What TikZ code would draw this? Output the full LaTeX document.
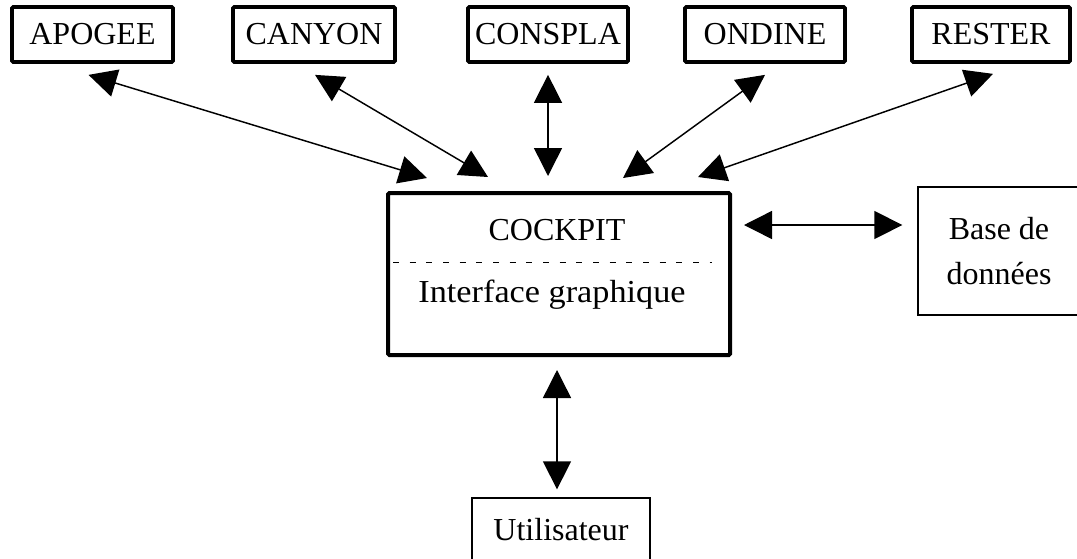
\documentclass[tikz,border=0pt]{standalone}
\usepackage{fontspec}
\setmainfont{Liberation Serif}
\usetikzlibrary{arrows.meta}
\begin{document}
\begin{tikzpicture}[x=0.75pt,y=-0.75pt,
  every node/.style={font=\fontsize{24pt}{28pt}\selectfont, inner sep=0pt},
  topbox/.style={draw, line width=2.8pt, rounded corners=1pt, minimum height=55*0.75pt},
  thinbox/.style={draw, line width=1pt},
  arr/.style={line width=1.1pt, {Triangle[length=21pt,width=21pt]}-{Triangle[length=21pt,width=21pt]}}]
\path[use as bounding box, clip] (0,0) rectangle (1077,558);
\fill[white] (0,0) rectangle (1077,558);
% top boxes
\node[topbox, minimum width=161*0.75pt] (apogee) at (92.5,34.5) {APOGEE};
\node[topbox, minimum width=162*0.75pt] (canyon) at (314,34.5) {CANYON};
\node[topbox, minimum width=160*0.75pt] (conspla) at (548,34.5) {CONSPLA};
\node[topbox, minimum width=160*0.75pt] (ondine) at (765,34.5) {ONDINE};
\node[topbox, minimum width=158*0.75pt] (rester) at (991,34.5) {RESTER};
% cockpit
\node[draw, line width=3pt, rounded corners=1pt, minimum width=342*0.75pt, minimum height=162*0.75pt] (cockpit) at (559,274) {};
\node (cocklabel) at (557,230) {COCKPIT};
\node (interface) at (552,295) {\scalebox{1.07}[1]{Interface graphique}};
\coordinate (dl) at (393,262);
\coordinate (dr) at (712,262);
\draw[dashed, dash pattern=on 4.5pt off 8pt, line width=0.6pt] (dl) -- (dr);
% base de donnees
\node[thinbox, minimum width=162*0.75pt, minimum height=128*0.75pt, align=center] (base) at (999,251) {Base de\\[6pt]données};
% utilisateur
\node[thinbox, minimum width=178*0.75pt, minimum height=64*0.75pt] (util) at (561,530) {Utilisateur};
% arrows
\draw[arr] ([shift={(-4,11)}]apogee.south) -- ([shift={(-132,-13)}]cockpit.north);
\draw[arr] ([shift={(1,11)}]canyon.south) -- ([shift={(-71,-14)}]cockpit.north);
\draw[arr] ([shift={(0,11)}]conspla.south) -- ([shift={(-11,-15)}]cockpit.north);
\draw[arr] ([shift={(0,11)}]ondine.south) -- ([shift={(64,-13)}]cockpit.north);
\draw[arr] ([shift={(2,10)}]rester.south) -- ([shift={(139,-14)}]cockpit.north);
\draw[arr] ([shift={(12,-49)}]cockpit.east) -- ([shift={(-15,-26)}]base.west);
\draw[arr] ([shift={(-2,13)}]cockpit.south) -- ([shift={(-4,-8)}]util.north);
\end{tikzpicture}
\end{document}
